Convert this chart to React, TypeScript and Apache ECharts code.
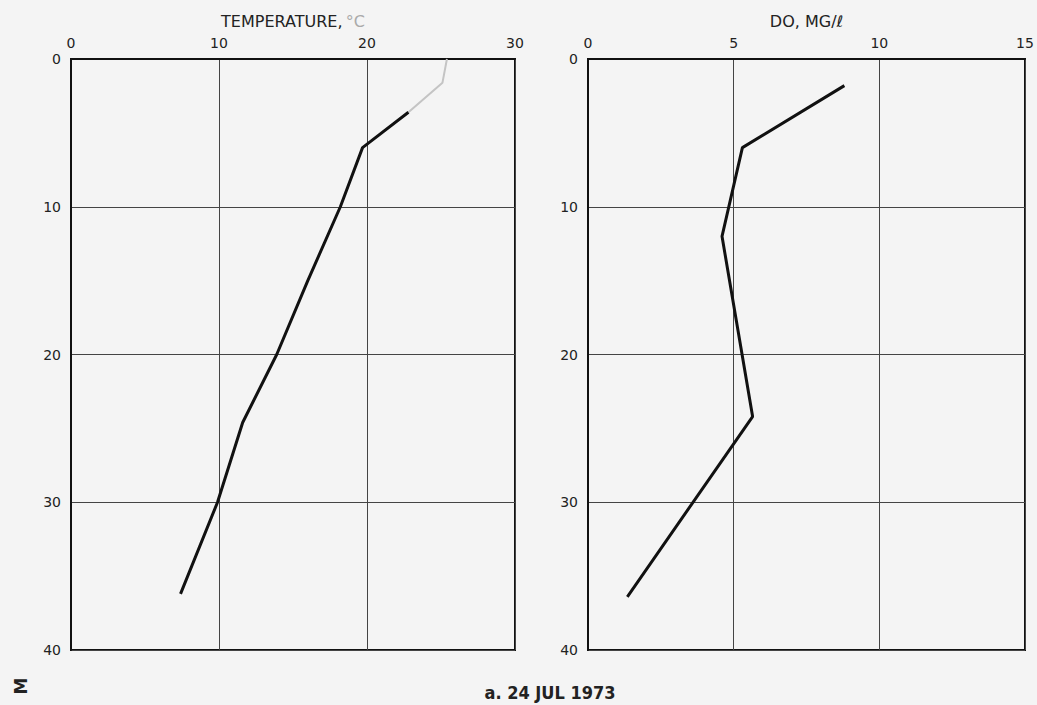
import React, { useEffect, useRef } from "react";
import * as echarts from "echarts";

// Depth (m) axis ticks
const depthTicks = [0, 10, 20, 30, 40];
// Temperature profile
const tempFadedDepth = [0, 1.6, 3.6];
const tempFadedValues = [25.4, 25.1, 22.8];
const tempDepth = [3.6, 6.0, 10, 15, 20, 24.6, 30, 36.2];
const tempValues = [22.8, 19.7, 18.2, 16.0, 13.9, 11.6, 9.9, 7.4];
// Dissolved oxygen profile
const doDepth = [1.8, 6.0, 12.0, 24.2, 36.4];
const doValues = [8.8, 5.3, 4.6, 5.65, 1.35];

const tempTitle = "TEMPERATURE,";
const tempUnit = "°C";
const doTitle = "DO, MG/ℓ";
const caption = "a. 24 JUL 1973";
const depthUnit = "M";

const FONT = "DejaVu Sans";

export default function App() {
  const ref = useRef<HTMLDivElement>(null);
  useEffect(() => {
    if (!ref.current) return;
    const chart = echarts.init(ref.current, null, { renderer: "svg" });
    const axisLabel = { color: "#222", fontSize: 14, fontFamily: FONT };
    const yAxisBase = {
      type: "value",
      min: depthTicks[0],
      max: depthTicks[depthTicks.length - 1],
      interval: 10,
      inverse: true,
      axisLine: { show: true, lineStyle: { color: "#111", width: 2 } },
      axisTick: { show: false },
      axisLabel: { ...axisLabel, margin: 10 },
      splitLine: { show: true, lineStyle: { color: "#444", width: 1 } },
    };
    const xAxisBase = {
      type: "value",
      position: "top",
      min: 0,
      axisLine: { show: true, lineStyle: { color: "#111", width: 2 } },
      axisTick: { show: false },
      axisLabel: { ...axisLabel, margin: 9 },
      splitLine: { show: true, lineStyle: { color: "#444", width: 1 } },
      nameLocation: "middle",
      nameGap: 30,
    };
    const pair = (xs: number[], ys: number[]) => xs.map((v, i) => [v, ys[i]]);
    chart.setOption({
      animation: false,
      backgroundColor: "#f4f4f4",
      grid: [
        { left: 71, top: 59, width: 444, height: 591, show: true, borderColor: "#111", borderWidth: 2, backgroundColor: "transparent" },
        { left: 588, top: 59, width: 437, height: 591, show: true, borderColor: "#111", borderWidth: 2, backgroundColor: "transparent" },
      ],
      xAxis: [
        {
          ...xAxisBase,
          gridIndex: 0,
          max: 30,
          interval: 10,
          name: `{a|${tempTitle}} {b|${tempUnit}}`,
          nameTextStyle: {
            rich: {
              a: { fontSize: 16, fontFamily: FONT, color: "#222" },
              b: { fontSize: 16, fontFamily: FONT, color: "#aaa" },
            },
          },
        },
        {
          ...xAxisBase,
          gridIndex: 1,
          max: 15,
          interval: 5,
          name: doTitle,
          nameTextStyle: { fontSize: 16, fontFamily: FONT, color: "#222" },
        },
      ],
      yAxis: [
        { ...yAxisBase, gridIndex: 0 },
        { ...yAxisBase, gridIndex: 1 },
      ],
      series: [
        {
          type: "line",
          xAxisIndex: 0,
          yAxisIndex: 0,
          data: pair(tempFadedValues, tempFadedDepth),
          symbol: "none",
          lineStyle: { color: "#c4c4c4", width: 2 },
        },
        {
          type: "line",
          xAxisIndex: 0,
          yAxisIndex: 0,
          data: pair(tempValues, tempDepth),
          symbol: "none",
          lineStyle: { color: "#111", width: 3 },
        },
        {
          type: "line",
          xAxisIndex: 1,
          yAxisIndex: 1,
          data: pair(doValues, doDepth),
          symbol: "none",
          lineStyle: { color: "#111", width: 3 },
        },
      ],
      graphic: [
        {
          type: "text",
          x: 21,
          y: 686,
          rotation: Math.PI / 2,
          style: {
            text: depthUnit,
            fontSize: 17,
            fontFamily: FONT,
            fontWeight: "bold",
            fill: "#222",
            align: "center",
            verticalAlign: "middle",
          },
        },
        {
          type: "text",
          x: 550,
          y: 692,
          style: {
            text: caption,
            fontSize: 18,
            fontFamily: "Liberation Sans Narrow, DejaVu Sans Condensed, sans-serif",
            fontWeight: "bold",
            fill: "#222",
            align: "center",
            verticalAlign: "middle",
          },
        },
      ],
    });
    return () => chart.dispose();
  }, []);
  return (
    <div
      ref={ref}
      style={{ position: "fixed", left: 0, top: 0, width: 1037, height: 705 }}
    />
  );
}
